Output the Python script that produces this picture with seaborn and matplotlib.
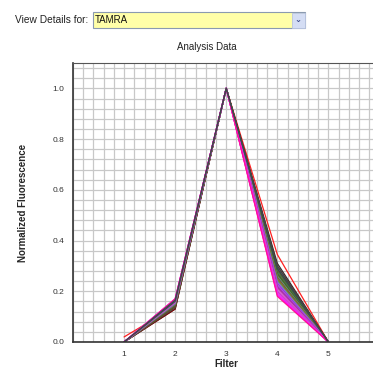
import numpy as np
import pandas as pd
import matplotlib
matplotlib.use("Agg")
import matplotlib.pyplot as plt
import seaborn as sns
from matplotlib.patches import Rectangle
from matplotlib.ticker import MultipleLocator

# DATA

filters = [1, 2, 3, 4, 5]

f1_values = [0.02, 0.0, 0.0, 0.0, 0.0, 0.0, 0.0, 0.0, 0.0, 0.0,
             0.0, 0.0, 0.0, 0.0, 0.0, 0.0, 0.0, 0.0, 0.0, 0.0,
             0.0, 0.0, 0.0, 0.0, 0.0, 0.0, 0.0, 0.0]
f2_values = [0.14, 0.13, 0.13, 0.135, 0.14, 0.14, 0.145, 0.14, 0.15, 0.15,
             0.145, 0.15, 0.155, 0.15, 0.155, 0.16, 0.155, 0.16, 0.16, 0.165,
             0.16, 0.165, 0.17, 0.165, 0.17, 0.17, 0.165, 0.16]
f3_values = [1.0] * 28
f4_values = [0.345, 0.31, 0.30, 0.29, 0.285, 0.28, 0.275, 0.27, 0.265, 0.26,
             0.255, 0.25, 0.245, 0.24, 0.235, 0.23, 0.225, 0.22, 0.215, 0.21,
             0.205, 0.20, 0.195, 0.19, 0.185, 0.18, 0.29, 0.30]
f5_values = [0.0] * 28

well_colors = ["#ff2020", "#303030", "#8b0000", "#3a4a4a", "#b22222", "#556b2f",
               "#2e8b57", "#6b4226", "#228b22", "#808080", "#4b6b4b", "#a0522d",
               "#6a8e23", "#708090", "#9370db", "#8a2be2", "#ba55d3", "#9932cc",
               "#b03090", "#c040c0", "#da70d6", "#cc33cc", "#e040e0", "#ee30ee",
               "#ff00ff", "#ff1493", "#2f4f4f", "#404848"]

rows = []
for i in range(len(f1_values)):
    for f, v in zip(filters, [f1_values[i], f2_values[i], f3_values[i],
                              f4_values[i], f5_values[i]]):
        rows.append({"Well": i, "Filter": f, "Value": v})
df = pd.DataFrame(rows)

# PLOT

sns.set_style("white")
plt.rcParams["font.family"] = ["Liberation Sans", "DejaVu Sans"]

fig = plt.figure(figsize=(3.73, 3.72), dpi=100)
ax = fig.add_axes([73 / 373, 30 / 372, 306.5 / 373, 279 / 372])

sns.lineplot(data=df, x="Filter", y="Value", hue="Well", palette=well_colors,
             legend=False, linewidth=0.9, ax=ax, estimator=None,
             units="Well", sort=False)

ax.set_xlim(0, 6)
ax.set_ylim(0, 1.1)
ax.xaxis.set_minor_locator(MultipleLocator(0.2))
ax.yaxis.set_minor_locator(MultipleLocator(0.04))
ax.set_xticks(filters)
ax.set_xticklabels([str(f) for f in filters])
ax.set_yticks([0.0, 0.2, 0.4, 0.6, 0.8, 1.0])
ax.set_yticklabels(["0.0", "0.2", "0.4", "0.6", "0.8", "1.0"])

ax.grid(True, which="both", color="#c8c8c8", linewidth=0.9)
ax.set_axisbelow(True)
ax.tick_params(which="both", direction="out", length=3, width=0.6,
               color="#555555", labelsize=6, labelcolor="#333333", pad=2)
ax.tick_params(which="major", length=4)
ax.tick_params(axis="x", pad=2.5)
for side in ["left", "bottom"]:
    ax.spines[side].set_color("#333333")
    ax.spines[side].set_linewidth(1.2)
ax.spines["top"].set_color("#555555")
ax.spines["top"].set_linewidth(0.8)
ax.spines["right"].set_visible(False)

ax.set_xlabel("Filter", fontsize=7, fontweight="bold", labelpad=1)
ax.set_ylabel("Normalized Fluorescence", fontsize=7, fontweight="bold",
              labelpad=18)

fig.text(207 / 373, 1 - 47 / 372, "Analysis Data", ha="center", va="center",
         fontsize=7, color="#222222")

# "View Details for" selector
fig.text(15 / 373, 1 - 20 / 372, "View Details for:", ha="left", va="center",
         fontsize=7.3, color="#222222")
fig.patches.append(Rectangle((93 / 373, 1 - 28 / 372), 212 / 373, 16 / 372,
                             transform=fig.transFigure, facecolor="#ffffa8",
                             edgecolor="#8a9ab0", linewidth=0.8))
fig.patches.append(Rectangle((292 / 373, 1 - 27.5 / 372), 12.5 / 373, 15 / 372,
                             transform=fig.transFigure, facecolor="#d4ddf4",
                             edgecolor="#b8c4e0", linewidth=0.6))
fig.text(298 / 373, 1 - 20 / 372, "\u2304", ha="center", va="center",
         fontsize=6, color="#3a4a8a", fontweight="bold",
         family=["DejaVu Sans"])
fig.text(95 / 373, 1 - 20 / 372, "TAMRA", ha="left", va="center",
         fontsize=7, color="#111111")

fig.savefig("out.png", dpi=100)
